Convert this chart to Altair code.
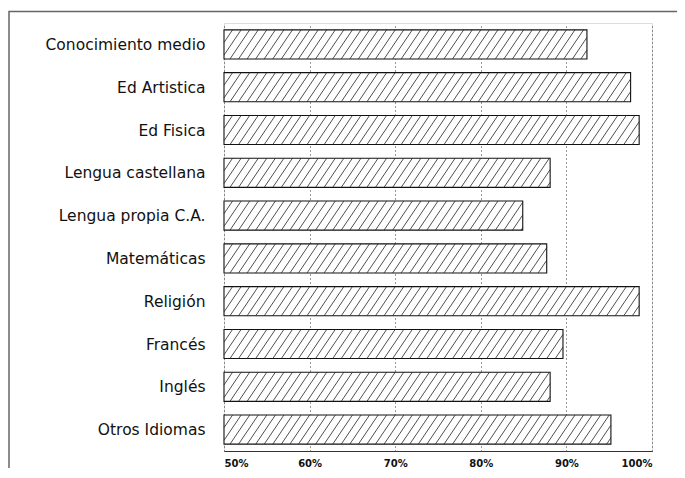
import json
import altair as alt
import pandas as pd

categories = ["Conocimiento medio", "Ed Artistica", "Ed Fisica", "Lengua castellana",
              "Lengua propia C.A.", "Matemáticas", "Religión", "Francés", "Inglés",
              "Otros Idiomas"]
values = [92.4, 97.5, 98.5, 88.1, 84.9, 87.7, 98.5, 89.6, 88.1, 95.2]
tick_values = [50, 60, 70, 80, 90, 100]

BASE = 50
HALF = 0.34      # half bar thickness, in category-index units
SPACING = 1.0    # hatch spacing, in % units
SLANT = 2.3      # hatch horizontal run across a bar, in % units

bars = pd.DataFrame({
    "cat": categories,
    "idx": list(range(len(categories))),
    "start": [BASE] * len(values),
    "value": values,
})
bars["y0"] = bars["idx"] - HALF
bars["y1"] = bars["idx"] + HALF

# hatch segments derived from each bar's extent
rows = []
for i, v in enumerate(values):
    xb = BASE - SLANT
    while xb < v:
        t0 = max(0.0, (BASE - xb) / SLANT)
        t1 = min(1.0, (v - xb) / SLANT)
        if t1 > t0:
            rows.append({
                "x": xb + t0 * SLANT, "x2": xb + t1 * SLANT,
                "y": i + HALF - t0 * 2 * HALF, "y2": i + HALF - t1 * 2 * HALF,
            })
        xb += SPACING
hatch = pd.DataFrame(rows)

label_expr = json.dumps(categories) + "[datum.value]"

xscale = alt.Scale(domain=[50, 100], nice=False, zero=False)
yscale = alt.Scale(domain=[-0.5, len(categories) - 0.5], reverse=True, nice=False, zero=False)

x_axis = alt.Axis(values=tick_values, labelExpr="datum.value + '%'", title=None,
                  grid=True, gridDash=[1, 3], gridColor="#333", gridWidth=1,
                  domain=True, domainColor="#333", domainWidth=1.2,
                  ticks=False, labelFont="DejaVu Sans", labelFontWeight="bold",
                  labelFontSize=10, labelColor="#111", labelPadding=7)
y_axis = alt.Axis(values=list(range(len(categories))), labelExpr=label_expr, title=None,
                  grid=False, domain=False, ticks=False, labelFont="DejaVu Sans",
                  labelFontSize=15.5, labelColor="#111", labelPadding=19)

rects = alt.Chart(bars).mark_rect(fill="white", stroke="#111", strokeWidth=1.1).encode(
    x=alt.X("start:Q", scale=xscale, axis=x_axis),
    x2="value:Q",
    y=alt.Y("y0:Q", scale=yscale, axis=y_axis),
    y2="y1:Q",
)

lines = alt.Chart(hatch).mark_rule(stroke="#222", strokeWidth=0.8).encode(
    x=alt.X("x:Q", scale=xscale),
    x2="x2:Q",
    y=alt.Y("y:Q", scale=yscale),
    y2="y2:Q",
)

frame = alt.Chart(pd.DataFrame({"a": [0]})).mark_rect(
    fill="transparent", stroke="#666", strokeWidth=1.5).encode(
    x=alt.value(-215), x2=alt.value(480), y=alt.value(-11.5), y2=alt.value(470))

chart = alt.layer(frame, rects, lines).properties(
    width=428, height=428,
    autosize=alt.AutoSizeParams(type="none"),
    padding={"left": 216, "top": 15, "right": 25, "bottom": 17},
).configure_view(stroke=None).configure(background="white")

chart.save("out.html", embed_options={"renderer": "svg", "actions": False})
